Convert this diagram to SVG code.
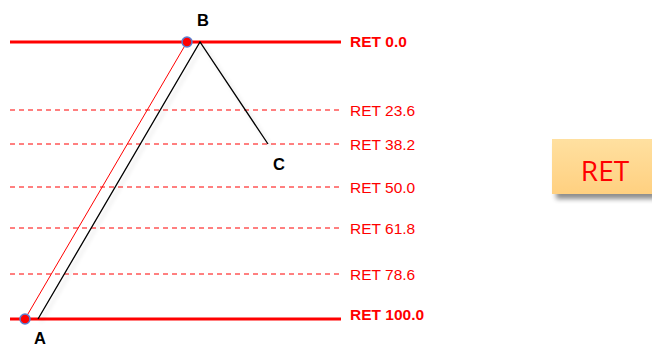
<svg xmlns="http://www.w3.org/2000/svg" width="652" height="345" viewBox="0 0 652 345">
<style>
.solid{stroke:#ff0000;stroke-width:3;fill:none}
.dash{stroke:#ff0000;stroke-width:1;stroke-dasharray:5,4;fill:none}
.lb{font-family:"Liberation Sans",Arial,sans-serif;font-size:15.5px;fill:#ff0000}
.lbb{font-family:"Liberation Sans",Arial,sans-serif;font-size:15.5px;fill:#ff0000;font-weight:bold}
.pt{font-family:"Liberation Sans",Arial,sans-serif;font-size:16.5px;fill:#000;font-weight:bold}
.dot{fill:#ff0000;stroke:#5b7fd0;stroke-width:1.5}
</style>
<defs>
<linearGradient id="g" x1="0" y1="0" x2="0" y2="1">
<stop offset="0" stop-color="#ffe0a0"/>
<stop offset="1" stop-color="#ffd080"/>
</linearGradient>
<filter id="sh" x="-20%" y="-20%" width="150%" height="160%">
<feGaussianBlur in="SourceAlpha" stdDeviation="2.5"/>
<feOffset dx="4" dy="5"/>
<feComponentTransfer><feFuncA type="linear" slope="0.45"/></feComponentTransfer>
<feMerge><feMergeNode/><feMergeNode in="SourceGraphic"/></feMerge>
</filter>
<filter id="lsh" x="-20%" y="-20%" width="140%" height="140%">
<feGaussianBlur in="SourceAlpha" stdDeviation="2"/>
<feOffset dx="3" dy="3"/>
<feComponentTransfer><feFuncA type="linear" slope="0.15"/></feComponentTransfer>
<feMerge><feMergeNode/><feMergeNode in="SourceGraphic"/></feMerge>
</filter>
</defs>
<g id="levels">
<line class="solid" x1="10" y1="42" x2="341" y2="42"/>
<line class="dash" x1="10" y1="110" x2="341" y2="110"/>
<line class="dash" x1="10" y1="144" x2="341" y2="144"/>
<line class="dash" x1="10" y1="187" x2="341" y2="187"/>
<line class="dash" x1="10" y1="228" x2="341" y2="228"/>
<line class="dash" x1="10" y1="274" x2="341" y2="274"/>
<line class="solid" x1="10" y1="319" x2="341" y2="319"/>
<text class="lbb" x="350" y="47">RET 0.0</text>
<text class="lb" x="350" y="115.5">RET 23.6</text>
<text class="lb" x="350" y="149.5">RET 38.2</text>
<text class="lb" x="350" y="192.5">RET 50.0</text>
<text class="lb" x="350" y="233.5">RET 61.8</text>
<text class="lb" x="350" y="279.5">RET 78.6</text>
<text class="lbb" x="350" y="320">RET 100.0</text>
</g>
<g id="connectors">
<polyline points="38,319 200,42 268,144" fill="none" stroke="#000" stroke-width="1.3" filter="url(#lsh)"/>
<line x1="25" y1="319" x2="187" y2="42" stroke="#ff0000" stroke-width="1"/>
</g>
<g id="A"><circle class="dot" cx="25" cy="319" r="5"/><text class="pt" x="34" y="344">A</text></g>
<g id="B"><circle class="dot" cx="187" cy="42" r="5"/><text class="pt" x="197" y="26">B</text></g>
<g id="C"><text class="pt" x="273" y="170">C</text></g>
<g id="RET">
<rect x="552" y="139" width="100" height="55" fill="url(#g)" filter="url(#sh)"/>
<text x="605" y="181" text-anchor="middle" font-family="'Open Sans','Noto Sans',sans-serif" font-size="28" fill="#ff0000">RET</text>
</g>
</svg>
